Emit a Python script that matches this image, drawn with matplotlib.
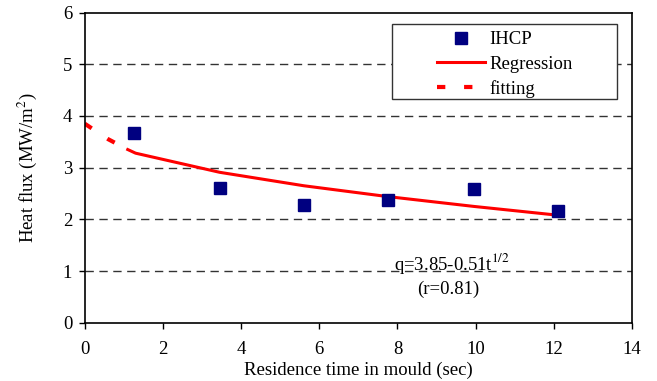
import numpy as np
import matplotlib.pyplot as plt
from matplotlib.patches import Rectangle

plt.rcParams['font.family'] = ['Liberation Serif', 'DejaVu Serif']
plt.rcParams['mathtext.fontset'] = 'stix'

# IHCP data points
t_ihcp = [1.25, 3.45, 5.6, 7.75, 9.95, 12.1]
q_ihcp = [3.67, 2.6, 2.27, 2.37, 2.58, 2.17]

# regression curve
t_reg = [1.1, 1.3, 3.45, 5.6, 7.75, 9.95, 12.1]
q_reg = [3.35, 3.28, 2.91, 2.65, 2.44, 2.25, 2.08]

# fitting (extrapolated, dashed)
t_fit = [0.0, 0.6, 1.1]
q_fit = [3.85, 3.55, 3.35]

fs = 13.5

fig = plt.figure(figsize=(6.57, 3.81), dpi=100)
ax = fig.add_axes([0.129, 0.153, 0.833, 0.814])

for y in [1, 2, 3, 4, 5]:
    ax.axhline(y, color='#333333', lw=1, ls=(0, (6, 4)), zorder=0)

ax.plot(t_ihcp, q_ihcp, 's', color='#000080', ms=8.5, label='IHCP', zorder=3)
ax.plot(t_reg, q_reg, '-', color='red', lw=2.2, label='Regression', zorder=2)
ax.plot(t_fit, q_fit, color='red', lw=3, ls=(0, (2, 4.5)), label='fitting', zorder=2)

ax.set_xlim(0, 14)
ax.set_ylim(0, 6)
ax.set_xticks(np.arange(0, 15, 2))
ax.set_yticks(np.arange(0, 7, 1))
ax.tick_params(direction='out', length=4, width=1, labelsize=fs)
ax.tick_params(axis='x', pad=9)
ax.tick_params(axis='y', pad=5)
for s in ax.spines.values():
    s.set_linewidth(1.2)

ax.set_xlabel('Residence time in mould (sec)', fontsize=fs, labelpad=3)
ax.set_ylabel('Heat flux (MW/m$^2$)', fontsize=fs, labelpad=17)

ax.text(9.4, 1.15, 'q=3.85-0.51t$^{1/2}$', fontsize=fs, ha='center', va='center')
ax.text(9.3, 0.65, '(r=0.81)', fontsize=fs, ha='center', va='center')

# legend box drawn separately (wide Excel-style frame)
ax.add_patch(Rectangle((0.561, 0.721), 0.412, 0.242, transform=ax.transAxes,
                       facecolor='white', edgecolor='#333333', lw=1, zorder=4))
leg = ax.legend(loc='upper left', bbox_to_anchor=(0.643, 0.94), fontsize=fs,
                frameon=False, handlelength=2.6, borderpad=0, borderaxespad=0,
                labelspacing=0.38, handletextpad=0.2)
leg.set_zorder(5)

fig.savefig('out.png', dpi=100)
